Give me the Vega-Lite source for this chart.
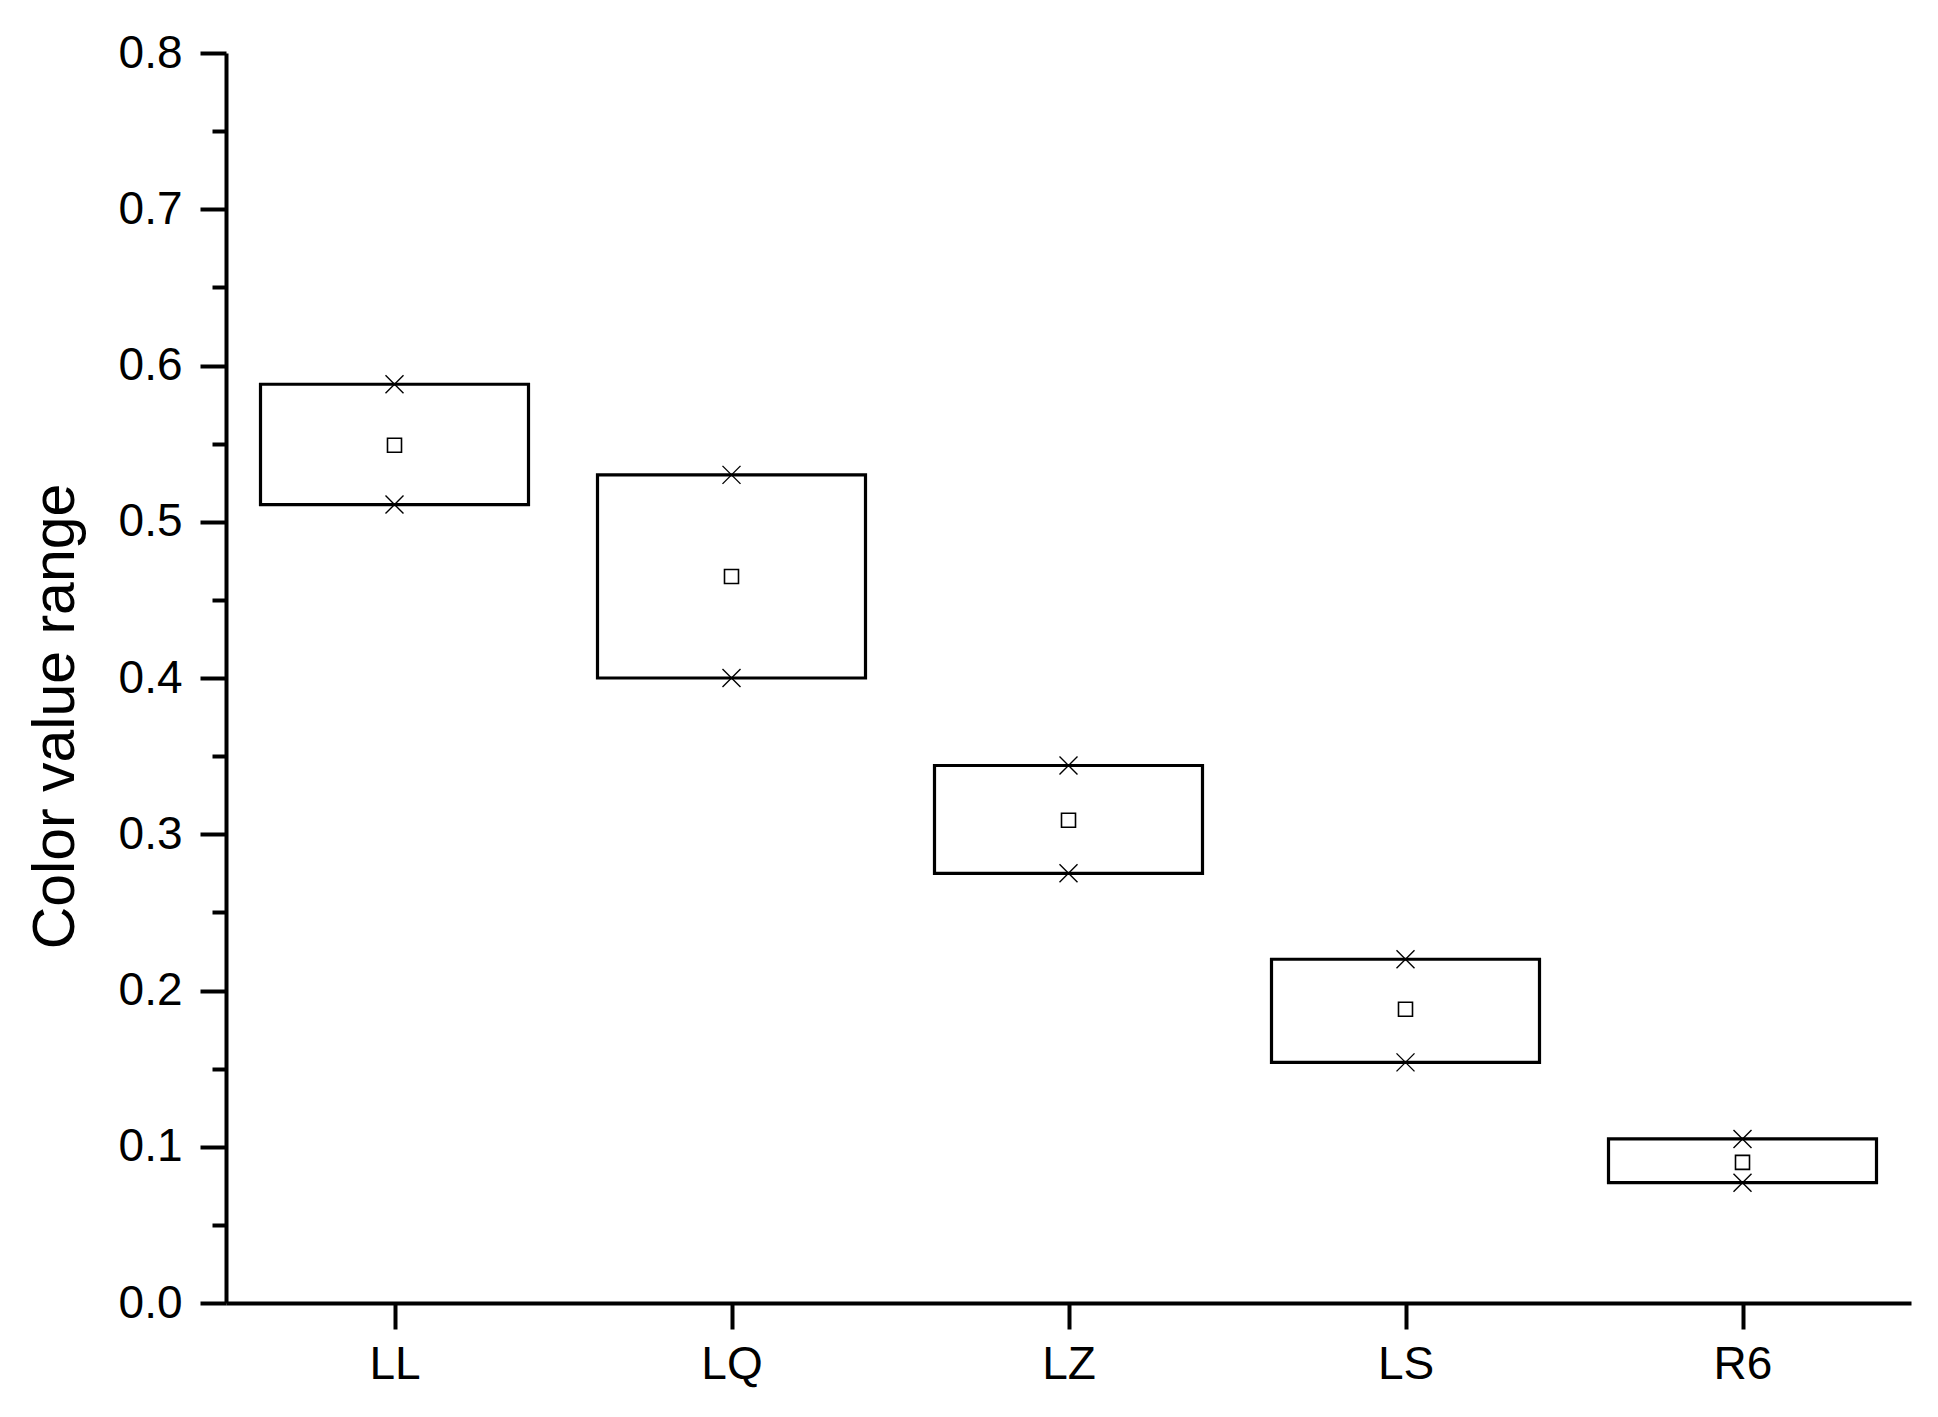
{
  "$schema": "https://vega.github.io/schema/vega-lite/v6.json",
  "width": 1685,
  "height": 1250,
  "autosize": {"type": "none"},
  "padding": {"left": 226, "top": 53, "right": 27, "bottom": 114},
  "background": "white",
  "config": {"view": {"stroke": null}, "font": "Liberation Sans"},
  "data": {"values": [
    {"cat": "LL", "max": 0.588, "min": 0.511, "mean": 0.549},
    {"cat": "LQ", "max": 0.530, "min": 0.400, "mean": 0.465},
    {"cat": "LZ", "max": 0.344, "min": 0.275, "mean": 0.309},
    {"cat": "LS", "max": 0.220, "min": 0.154, "mean": 0.188},
    {"cat": "R6", "max": 0.105, "min": 0.077, "mean": 0.090}
  ]},
  "encoding": {
    "x": {
      "field": "cat", "type": "nominal", "sort": null,
      "scale": {"type": "point", "padding": 0.5},
      "axis": {
        "title": null, "labelAngle": 0, "labelFontSize": 46, "labelColor": "black",
        "labelFont": "Liberation Sans",
        "domainColor": "black", "domainWidth": 4, "tickColor": "black", "tickWidth": 4,
        "tickSize": 26, "labelPadding": 13, "grid": false
      }
    }
  },
  "layer": [
    {
      "mark": {"type": "bar", "width": 268, "fill": "transparent", "stroke": "black", "strokeWidth": 3.2},
      "encoding": {
        "y": {
          "field": "max", "type": "quantitative",
          "scale": {"domain": [0, 0.8], "nice": false},
          "axis": {
            "title": "Color value range",
            "values": [0, 0.05, 0.1, 0.15, 0.2, 0.25, 0.3, 0.35, 0.4, 0.45, 0.5, 0.55, 0.6, 0.65, 0.7, 0.75, 0.8],
            "labelExpr": "round(datum.value*20) % 2 == 0 ? format(datum.value, '.1f') : ''",
            "tickSize": {"condition": {"test": "round(datum.value*20) % 2 == 0", "value": 26}, "value": 14},
            "labelFontSize": 46, "labelColor": "black", "labelPadding": 18,
            "domainColor": "black", "domainWidth": 4, "tickColor": "black", "tickWidth": 4,
            "grid": false,
            "titleFontSize": 59, "titleFontWeight": "normal", "titleColor": "black",
            "titleAngle": -90, "titleX": -171, "titleY": 663,
            "titleAlign": "center", "titleBaseline": "middle"
          }
        },
        "y2": {"field": "min"}
      }
    },
    {
      "mark": {"type": "point", "shape": "M-1,-1L1,1M1,-1L-1,1", "size": 324, "filled": false, "stroke": "black", "strokeWidth": 1.4, "opacity": 1},
      "encoding": {"y": {"field": "max", "type": "quantitative", "scale": {"domain": [0, 0.8], "nice": false}}}
    },
    {
      "mark": {"type": "point", "shape": "M-1,-1L1,1M1,-1L-1,1", "size": 324, "filled": false, "stroke": "black", "strokeWidth": 1.4, "opacity": 1},
      "encoding": {"y": {"field": "min", "type": "quantitative", "scale": {"domain": [0, 0.8], "nice": false}}}
    },
    {
      "mark": {"type": "point", "shape": "square", "size": 196, "filled": false, "stroke": "black", "strokeWidth": 1.6, "opacity": 1},
      "encoding": {"y": {"field": "mean", "type": "quantitative", "scale": {"domain": [0, 0.8], "nice": false}}}
    }
  ]
}
